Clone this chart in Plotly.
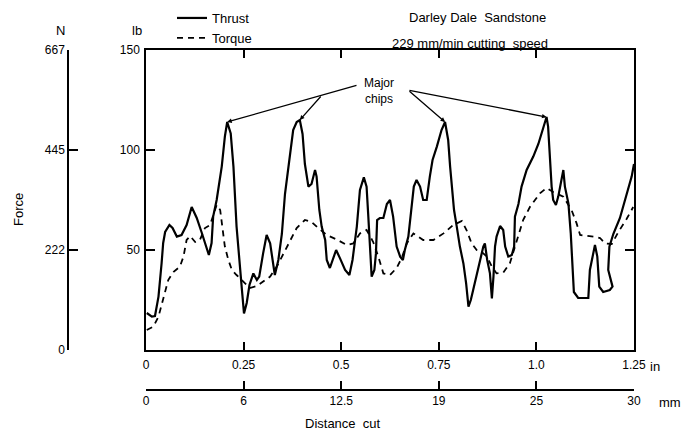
import plotly.graph_objects as go

# Distance cut (inches) and thrust force (lb)
thrust_in = [0.002, 0.015, 0.023, 0.032, 0.040, 0.044, 0.049, 0.060, 0.068, 0.079,
             0.091, 0.104, 0.117, 0.130, 0.143, 0.155, 0.161, 0.168, 0.172, 0.181,
             0.194, 0.202, 0.208, 0.217, 0.224, 0.232, 0.241, 0.245, 0.251, 0.258,
             0.265, 0.275, 0.284, 0.290, 0.300, 0.309, 0.318, 0.326, 0.330, 0.339,
             0.348, 0.356, 0.365, 0.369, 0.377, 0.386, 0.394, 0.401, 0.407, 0.416,
             0.424, 0.433, 0.437, 0.444, 0.450, 0.459, 0.463, 0.471, 0.480, 0.487,
             0.497, 0.510, 0.521, 0.529, 0.540, 0.548, 0.558, 0.565, 0.569, 0.574,
             0.578, 0.585, 0.589, 0.592, 0.599, 0.608, 0.617, 0.625, 0.633, 0.642,
             0.651, 0.658, 0.663, 0.672, 0.681, 0.686, 0.693, 0.702, 0.710, 0.719,
             0.727, 0.734, 0.745, 0.757, 0.766, 0.774, 0.779, 0.783, 0.789, 0.796,
             0.804, 0.813, 0.820, 0.826, 0.832, 0.838, 0.851, 0.864, 0.868, 0.874,
             0.881, 0.886, 0.890, 0.894, 0.898, 0.907, 0.915, 0.920, 0.928, 0.937,
             0.943, 0.945, 0.954, 0.962, 0.975, 0.992, 1.005, 1.018, 1.026, 1.030,
             1.035, 1.039, 1.043, 1.050, 1.056, 1.063, 1.069, 1.073, 1.082, 1.088,
             1.093, 1.096, 1.107, 1.133, 1.137, 1.144, 1.150, 1.156, 1.161, 1.171,
             1.188, 1.195, 1.184, 1.187, 1.197, 1.214, 1.231, 1.244, 1.250]
thrust_lb = [18.5, 16.7, 17.0, 26.7, 43.5, 53.5, 59.0, 62.5, 61.0, 56.7,
             57.5, 62.5, 71.5, 66.0, 58.5, 51.7, 47.5, 53.5, 66.7, 75.0,
             91.7, 106.7, 114.0, 108.3, 91.7, 61.7, 38.3, 31.7, 18.3, 23.5,
             32.5, 38.3, 35.0, 36.7, 48.3, 57.5, 53.3, 41.7, 37.5, 45.0,
             58.0, 78.0, 91.7, 100.0, 110.0, 114.0, 115.0, 108.0, 93.0, 81.7,
             83.0, 90.0, 86.7, 70.0, 61.7, 55.0, 45.0, 41.0, 46.7, 50.0,
             45.8, 40.0, 37.5, 45.0, 61.7, 80.0, 86.3, 81.7, 68.3, 50.0,
             36.7, 40.0, 48.3, 65.0, 66.0, 66.0, 73.0, 75.0, 66.7, 51.7,
             46.7, 45.0, 50.0, 56.7, 71.7, 81.7, 85.0, 81.7, 75.0, 75.0,
             86.7, 95.0, 101.7, 110.0, 114.0, 105.0, 91.7, 81.7, 70.0, 61.7,
             51.7, 43.3, 33.3, 21.7, 25.0, 30.0, 41.7, 51.7, 53.3, 45.0,
             38.3, 25.8, 36.7, 51.7, 56.7, 62.0, 60.0, 51.7, 46.7, 47.5,
             51.7, 66.7, 73.0, 81.7, 90.0, 96.7, 103.0, 111.7, 116.5, 111.7,
             95.0, 81.7, 75.0, 72.5, 76.7, 85.0, 90.0, 81.7, 73.3, 58.3,
             41.7, 29.0, 26.0, 26.0, 40.0, 46.7, 52.5, 46.7, 31.7, 29.0,
             30.0, 31.7, 40.0, 51.7, 58.0, 66.0, 78.0, 86.7, 93.0]

# Distance cut (inches) and torque-derived force (lb)
torque_in = [0.002, 0.019, 0.032, 0.044, 0.057, 0.070, 0.087, 0.096, 0.104, 0.113,
             0.126, 0.138, 0.151, 0.164, 0.172, 0.181, 0.190, 0.196, 0.202, 0.211,
             0.220, 0.232, 0.249, 0.266, 0.284, 0.305, 0.318, 0.335, 0.352, 0.369,
             0.386, 0.407, 0.424, 0.441, 0.463, 0.488, 0.514, 0.531, 0.548, 0.565,
             0.582, 0.595, 0.608, 0.625, 0.642, 0.655, 0.668, 0.685, 0.710, 0.736,
             0.762, 0.787, 0.809, 0.821, 0.834, 0.847, 0.860, 0.873, 0.886, 0.898,
             0.915, 0.932, 0.950, 0.966, 0.984, 1.009, 1.026, 1.043, 1.069, 1.090,
             1.103, 1.112, 1.146, 1.163, 1.176, 1.193, 1.210, 1.231, 1.248]
torque_lb = [10.0, 11.7, 16.7, 25.0, 35.0, 39.0, 41.7, 46.7, 55.0, 57.0,
             54.0, 55.0, 61.0, 62.5, 67.5, 72.5, 70.0, 61.7, 51.7, 45.0,
             40.0, 37.5, 34.0, 31.0, 32.0, 35.0, 36.7, 41.7, 48.3, 55.0,
             61.0, 65.0, 64.0, 61.0, 57.5, 55.3, 52.5, 53.3, 58.3, 60.0,
             54.0, 46.7, 38.3, 37.5, 41.0, 46.0, 53.3, 58.3, 55.0, 55.0,
             58.3, 62.5, 64.5, 60.0, 53.3, 50.0, 49.0, 46.7, 41.7, 38.3,
             38.7, 43.3, 55.0, 65.0, 71.7, 78.3, 81.0, 79.0, 76.7, 70.0,
             63.3, 57.5, 56.7, 56.0, 53.3, 53.0, 59.0, 65.5, 71.5]

# Axis tick values and labels
in_ticks = [0, 0.25, 0.5, 0.75, 1.0, 1.25]
in_labels = ["0", "0.25", "0.5", "0.75", "1.0", "1.25"]
mm_labels = ["0", "6", "12.5", "19", "25", "30"]
lb_ticks = [50, 100, 150]
lb_labels = ["50", "100", "150"]
n_ticks = [0, 222, 445, 667]
n_labels = ["0", "222", "445", "667"]

# Thrust peaks pointed out as major chips
peak_idx = [22, 46, 94, 128]

W, H = 688, 435
FONT = "Liberation Sans"


def px(x):
    return x / W


def py(y):
    return 1 - y / H


fig = go.Figure()
fig.add_trace(go.Scatter(x=thrust_in, y=thrust_lb, mode="lines", name="Thrust",
                         line=dict(color="black", width=2.2)))
fig.add_trace(go.Scatter(x=torque_in, y=torque_lb, mode="lines", name="Torque",
                         line=dict(color="black", width=1.8, dash="6px,5px")))
# carriers for the secondary scales (newtons, millimetres)
fig.add_trace(go.Scatter(x=[None], y=[None], yaxis="y2", showlegend=False, hoverinfo="skip"))
fig.add_trace(go.Scatter(x=[None], y=[None], xaxis="x2", showlegend=False, hoverinfo="skip"))

axis_font = dict(family=FONT, size=12, color="black")
dom_x = [px(146), px(634)]
dom_y = [py(350), py(50)]

fig.update_layout(
    width=W, height=H,
    margin=dict(l=0, r=0, t=0, b=0, autoexpand=False),
    paper_bgcolor="white", plot_bgcolor="white",
    font=dict(family=FONT, size=13, color="black"),
    showlegend=True,
    legend=dict(x=px(172), y=py(3), xanchor="left", yanchor="top",
                font=dict(family=FONT, size=13, color="black"),
                bgcolor="rgba(0,0,0,0)", itemwidth=30, tracegroupgap=0),
    xaxis=dict(domain=dom_x, range=[0, 1.25], tickvals=in_ticks, ticktext=in_labels,
               ticks="inside", ticklen=8, tickwidth=1.5, tickcolor="black",
               showline=True, linecolor="black", linewidth=2, mirror="ticks",
               showgrid=False, zeroline=False, tickfont=axis_font, anchor="y",
               ticklabelstandoff=3),
    yaxis=dict(domain=dom_y, range=[0, 150], tickvals=lb_ticks, ticktext=lb_labels,
               ticks="inside", ticklen=9, tickwidth=1.5, tickcolor="black",
               showline=True, linecolor="black", linewidth=1.5, mirror="ticks",
               showgrid=False, zeroline=False, tickfont=axis_font, anchor="x",
               ticklabelstandoff=2),
    yaxis2=dict(domain=dom_y, range=[0, 667], tickvals=n_ticks, ticktext=n_labels,
                overlaying="y", anchor="free", position=px(68), side="left",
                ticks="inside", ticklen=9, tickwidth=1.5, tickcolor="black",
                showline=True, linecolor="black", linewidth=1.5,
                showgrid=False, zeroline=False, tickfont=axis_font),
    xaxis2=dict(domain=dom_x, range=[0, 1.25 * 25.4],
                tickvals=[v * 25.4 for v in in_ticks], ticktext=mm_labels,
                overlaying="x", anchor="free", position=py(390), side="bottom",
                ticks="inside", ticklen=8, tickwidth=1.5, tickcolor="black",
                showline=True, linecolor="black", linewidth=1.5,
                showgrid=False, zeroline=False, tickfont=axis_font),
)

# captions and unit labels
texts = [
    ("Darley Dale  Sandstone", 477, 17, 13, 0),
    ("229 mm/min cutting  speed", 470, 43, 13, 0),
    ("lb", 137, 30, 13, 0),
    ("N", 60, 30, 13, 0),
    ("Force", 18, 210, 13, -90),
    ("in", 655, 366, 13, 0),
    ("mm", 670, 402, 13, 0),
    ("Distance  cut", 343, 423, 13, 0),
    ("Major<br>chips", 379, 91, 12, 0),
]
for t, x, y, s, a in texts:
    fig.add_annotation(text=t, x=px(x), y=py(y), xref="paper", yref="paper",
                       xanchor="center", yanchor="middle",
                       showarrow=False, textangle=a,
                       font=dict(family=FONT, size=s, color="black"))

# pointer lines from the caption to each major chip peak
starts = [(0.543, 132.5), (0.451, 127.5), (0.671, 130.0), (0.671, 130.0)]
for (sx, sy), i in zip(starts, peak_idx):
    fig.add_annotation(x=thrust_in[i], y=thrust_lb[i], ax=sx, ay=sy,
                       xref="x", yref="y", axref="x", ayref="y",
                       text="", showarrow=True, arrowhead=2, arrowsize=0.7,
                       arrowwidth=1.3, arrowcolor="black", standoff=0)

fig.write_html("out.html")
